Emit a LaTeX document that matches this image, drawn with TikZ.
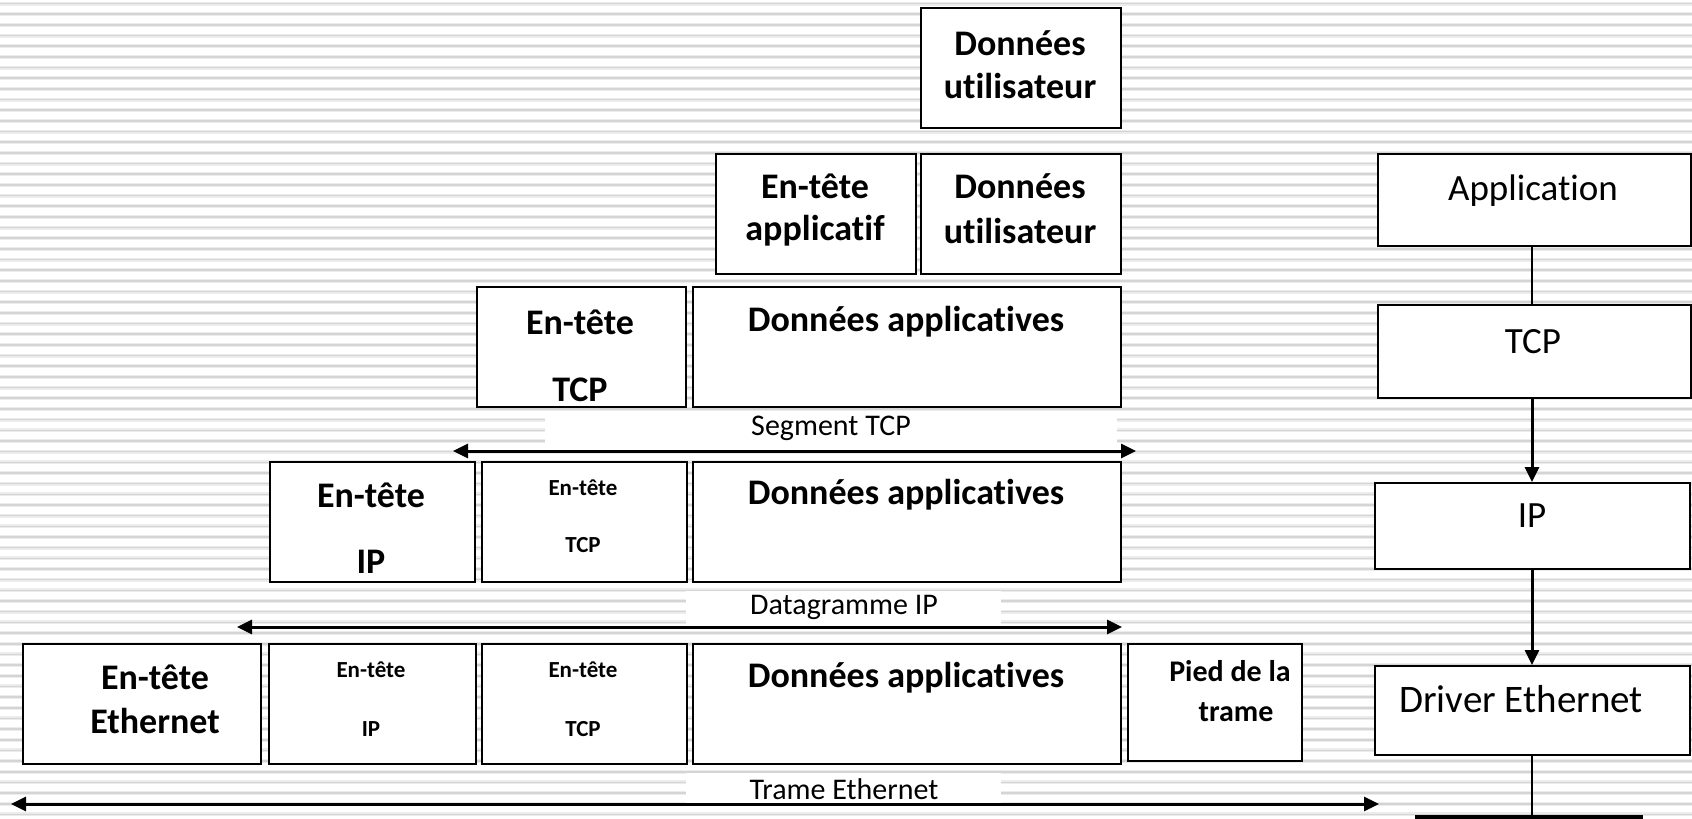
\documentclass[tikz,border=0pt]{standalone}
\usepackage{fontspec}
\setmainfont{Carlito}[Ligatures={NoCommon}]
\usetikzlibrary{arrows.meta}
\definecolor{stripe}{RGB}{212,212,212}
\definecolor{stripelight}{RGB}{236,236,236}
\newcommand{\fs}[2]{\fontsize{#1}{#2}\selectfont}
\tikzset{
  pkt/.style={draw=black, line width=2pt, fill=white, inner sep=0pt},
  big/.style={font=\bfseries\fs{36}{40}, inner sep=0pt, align=center},
  med/.style={font=\bfseries\fs{30}{40}, inner sep=0pt, align=center},
  small/.style={font=\bfseries\fs{23}{28}, inner sep=0pt, align=center},
  lbl/.style={font=\fs{30}{34}, inner sep=0pt},
  layer/.style={font=\fs{37}{40}, inner sep=0pt},
  span/.style={line width=3pt, {Triangle[length=15pt,width=14pt]}-{Triangle[length=15pt,width=14pt]}},
  down/.style={line width=3pt, -{Triangle[length=15pt,width=14pt]}},
  link/.style={line width=2pt},
  whitebg/.style={fill=white, draw=none, inner sep=0pt},
}
\newcommand{\boxat}[5]{\node[pkt, minimum width=#4-#2, minimum height=#5-#3, anchor=north west] (#1) at (#2,#3) {};}
\begin{document}
\begin{tikzpicture}[x=1pt,y=-1pt]
\useasboundingbox (0,0) rectangle (1692,819);
\fill[white] (0,0) rectangle (1692,819);
% stripes
\foreach \k in {0,...,76} {
  \draw[stripelight, line width=4pt] (0,{3.5+10.67*\k}) -- (1692,{3.5+10.67*\k});
  \draw[stripe, line width=1.6pt] (0,{3.5+10.67*\k}) -- (1692,{3.5+10.67*\k});
}
% label backgrounds
\node[whitebg, minimum width=572pt, minimum height=30pt, anchor=north west] (bgseg) at (545,413) {};
\node[whitebg, minimum width=315pt, minimum height=33pt, anchor=north west] (bgdat) at (686,591) {};
\node[whitebg, minimum width=315pt, minimum height=31pt, anchor=north west] (bgtr) at (686,773) {};

% row 1
\boxat{u1}{920}{7}{1120}{127}
\node[big] (tu1) at (1020,43) {Données};
\node[big] (tu1b) at (1020,86) {utilisateur};
% row 2
\boxat{h2}{715}{153}{915}{273}
\boxat{u2}{920}{153}{1120}{273}
\node[big] (th2) at (815,186) {En-tête};
\node[big] (th2b) at (815,231) {applicatif};
\node[big] (tu2) at (1020,186) {Données};
\node[big] (tu2b) at (1020,231) {utilisateur};
% row 3
\boxat{h3}{476}{286}{685}{406}
\boxat{d3}{692}{286}{1120}{406}
\node[big] (th3) at (580,322) {En-tête};
\node[big] (th3b) at (580,390) {TCP};
\node[big] (td3) at (906,322) {Données applicatives};
\node[lbl] (lseg) at (831,428) {Segment TCP};
\coordinate (s3a) at (453,451);
\coordinate (s3b) at (1136,451);
\draw[span] (s3a) -- (s3b);
% row 4
\boxat{ip4}{269}{461}{474}{581}
\boxat{tc4}{481}{461}{686}{581}
\boxat{d4}{692}{461}{1120}{581}
\node[big] (tip4) at (371,495) {En-tête};
\node[big] (tip4b) at (371,562) {IP};
\node[small] (ttc4) at (583,488) {En-tête};
\node[small] (ttc4b) at (583,545) {TCP};
\node[big] (td4) at (906,495) {Données applicatives};
\node[lbl] (ldat) at (844,607) {Datagramme IP};
\coordinate (s4a) at (237,627);
\coordinate (s4b) at (1122,627);
\draw[span] (s4a) -- (s4b);
% row 5
\boxat{e5}{22}{643}{260}{763}
\boxat{ip5}{268}{643}{475}{763}
\boxat{tc5}{481}{643}{686}{763}
\boxat{d5}{692}{643}{1120}{763}
\boxat{p5}{1127}{643}{1301}{760}
\node[big] (te5) at (155,677) {En-tête};
\node[big] (te5b) at (155,721) {Ethernet};
\node[small] (tip5) at (371,670) {En-tête};
\node[small] (tip5b) at (371,729) {IP};
\node[small] (ttc5) at (583,670) {En-tête};
\node[small] (ttc5b) at (583,729) {TCP};
\node[big] (td5) at (906,678) {Données applicatives};
\node[med] (tp5) at (1230,671) {Pied de la};
\node[med] (tp5b) at (1236,712) {trame};
\node[lbl] (ltr) at (844,789) {Trame Ethernet};
\coordinate (s5a) at (11,804);
\coordinate (s5b) at (1379,804);
\draw[span] (s5a) -- (s5b);

% right stack
\boxat{app}{1377}{153}{1690}{245}
\boxat{tcp}{1377}{304}{1690}{397}
\boxat{ip}{1374}{482}{1689}{568}
\boxat{drv}{1374}{665}{1689}{754}
\node[layer] (tapp) at (1533,191) {Application};
\node[layer] (ttcp) at (1533,342) {TCP};
\node[layer] (tip) at (1532,516) {IP};
\node[layer, font=\fs{39}{42}] (tdrv) at (1521,699) {Driver Ethernet};
\coordinate (busL) at (1415,817);
\coordinate (busR) at (1643,817);
\coordinate (busM) at (1532,817);
\draw[line width=5pt] (busL) -- (busR);
\draw[link] (app.south -| busM) -- (tcp.north -| busM);
\draw[down] (tcp.south -| busM) -- (ip.north -| busM);
\draw[down] (ip.south -| busM) -- (drv.north -| busM);
\draw[link] (drv.south -| busM) -- (busM);
\end{tikzpicture}
\end{document}
